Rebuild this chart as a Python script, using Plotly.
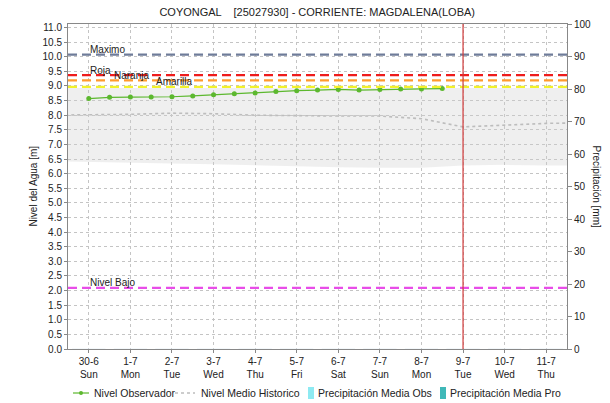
import plotly.graph_objects as go

# --- Station data -----------------------------------------------------------
title_text = "COYONGAL    [25027930] - CORRIENTE: MAGDALENA(LOBA)"

# Observed water level (twice daily readings)
obs_times = [
    "2024-06-30 00:00", "2024-06-30 12:00", "2024-07-01 00:00", "2024-07-01 12:00",
    "2024-07-02 00:00", "2024-07-02 12:00", "2024-07-03 00:00", "2024-07-03 12:00",
    "2024-07-04 00:00", "2024-07-04 12:00", "2024-07-05 00:00", "2024-07-05 12:00",
    "2024-07-06 00:00", "2024-07-06 12:00", "2024-07-07 00:00", "2024-07-07 12:00",
    "2024-07-08 00:00", "2024-07-08 12:00",
]
obs_level = [8.57, 8.61, 8.62, 8.62, 8.63, 8.66, 8.70, 8.73, 8.76,
             8.81, 8.84, 8.86, 8.88, 8.86, 8.88, 8.90, 8.90, 8.91]

# Historic daily statistics
hist_days = [
    "2024-06-29", "2024-06-30", "2024-07-01", "2024-07-02", "2024-07-03",
    "2024-07-04", "2024-07-05", "2024-07-06", "2024-07-07", "2024-07-08",
    "2024-07-09", "2024-07-10", "2024-07-11", "2024-07-12",
]
hist_mean = [8.00, 8.01, 8.03, 8.07, 8.05, 8.00, 7.98, 7.97, 7.97, 7.88,
             7.60, 7.66, 7.72, 7.74]
hist_high = [8.93, 8.93, 8.93, 8.93, 8.93, 8.93, 8.93, 8.93, 8.93, 8.93,
             8.93, 8.93, 8.93, 8.93]
hist_low = [6.43, 6.41, 6.38, 6.35, 6.32, 6.28, 6.25, 6.22, 6.20, 6.20,
            6.28, 6.30, 6.28, 6.27]

# Precipitation (mm)
precip_days = [
    "2024-06-30", "2024-07-01", "2024-07-02", "2024-07-03", "2024-07-04",
    "2024-07-05", "2024-07-06", "2024-07-07", "2024-07-08", "2024-07-09",
    "2024-07-10", "2024-07-11",
]
precip_obs = [0, 0, 0, 0, 0, 0, 0, 0, 0, 0, 0, 0]
precip_pro = [0, 0, 0, 0, 0, 0, 0, 0, 0, 0, 0, 0]

# Axis ticks
tick_days = precip_days
tick_labels = ["30-6<br>Sun", "1-7<br>Mon", "2-7<br>Tue", "3-7<br>Wed", "4-7<br>Thu",
               "5-7<br>Fri", "6-7<br>Sat", "7-7<br>Sun", "8-7<br>Mon", "9-7<br>Tue",
               "10-7<br>Wed", "11-7<br>Thu"]

# Alert thresholds (m)
threshold_names = ["Maximo", "Roja", "Naranja", "Amarilla", "Nivel Bajo"]
threshold_values = [10.07, 9.37, 9.19, 8.97, 2.09]
threshold_colors = ["#6f7c99", "#ee1c1c", "#ff9a2e", "#f2f22a", "#e84de8"]
threshold_label_x = ["2024-06-30 00:00", "2024-06-30 00:00", "2024-06-30 14:00",
                     "2024-07-01 14:00", "2024-06-30 00:00"]

today = "2024-07-09 00:00"

FONT = "Liberation Sans, Arial, sans-serif"
GREEN = "#5cb82e"
HIST_GREY = "#bdbdbd"
CYAN = "#8eeaf2"
TEAL = "#3fb8b8"

NAME_OBS = "Nivel Observador"
NAME_HIST = "Nivel Medio Historico"
NAME_P_OBS = "Precipitación Media Obs"
NAME_P_PRO = "Precipitación Media Pro"

fig = go.Figure()

# Historic range band
fig.add_trace(go.Scatter(x=hist_days, y=hist_high, mode="lines",
                         line=dict(width=0), hoverinfo="skip", showlegend=False))
fig.add_trace(go.Scatter(x=hist_days, y=hist_low, mode="lines", fill="tonexty",
                         fillcolor="rgba(205,205,205,0.32)", line=dict(width=0),
                         hoverinfo="skip", showlegend=False))

fig.add_trace(go.Scatter(
    x=obs_times, y=obs_level, mode="lines+markers", name=NAME_OBS,
    line=dict(color=GREEN, width=1.2),
    marker=dict(color=GREEN, size=5, symbol="circle"), showlegend=False,
))
fig.add_trace(go.Scatter(
    x=hist_days, y=hist_mean, mode="lines", name=NAME_HIST,
    line=dict(color=HIST_GREY, width=1.6, dash="dot"), showlegend=False,
))
fig.add_trace(go.Bar(x=precip_days, y=precip_obs, name=NAME_P_OBS,
                     marker_color=CYAN, yaxis="y2", showlegend=False))
fig.add_trace(go.Bar(x=precip_days, y=precip_pro, name=NAME_P_PRO,
                     marker_color=TEAL, yaxis="y2", showlegend=False))

# Threshold lines and their labels
for name, val, col, lx in zip(threshold_names, threshold_values,
                              threshold_colors, threshold_label_x):
    fig.add_shape(type="line", xref="paper", x0=0, x1=1, yref="y", y0=val, y1=val,
                  line=dict(color=col, width=2.2, dash="9px,5px"), layer="above")
    fig.add_annotation(x=lx, y=val, text=name, showarrow=False, xanchor="left",
                       yanchor="middle", yshift=5, xshift=-1,
                       font=dict(family=FONT, size=10, color="#222"))

# Current day marker
fig.add_shape(type="line", x0=today, x1=today, yref="paper", y0=0, y1=1,
              line=dict(color="#d03a3a", width=1.2), layer="above")

# --- Legend row under the chart (pixel positions converted to paper units) ---
L, PW, B, PH = 68, 499, 349, 325


def px(x):
    return (x - L) / PW


def py(y):
    return (B - y) / PH


LEG_Y = 393
legend_font = dict(family=FONT, size=10.5, color="#222")

fig.add_shape(type="line", xref="paper", yref="paper", x0=px(73), x1=px(89),
              y0=py(LEG_Y), y1=py(LEG_Y), line=dict(color=GREEN, width=1.2))
fig.add_shape(type="circle", xref="paper", yref="paper", x0=px(79), x1=px(83),
              y0=py(LEG_Y + 2), y1=py(LEG_Y - 2), line=dict(color=GREEN, width=0),
              fillcolor=GREEN)
fig.add_shape(type="line", xref="paper", yref="paper", x0=px(175), x1=px(195),
              y0=py(LEG_Y), y1=py(LEG_Y),
              line=dict(color=HIST_GREY, width=1.6, dash="dot"))
fig.add_shape(type="rect", xref="paper", yref="paper", x0=px(308), x1=px(314),
              y0=py(LEG_Y + 6), y1=py(LEG_Y - 6), line=dict(width=0),
              fillcolor=CYAN)
fig.add_shape(type="rect", xref="paper", yref="paper", x0=px(440), x1=px(446),
              y0=py(LEG_Y + 6), y1=py(LEG_Y - 6), line=dict(width=0),
              fillcolor=TEAL)
for text, tx in [(NAME_OBS, 92), (NAME_HIST, 199), (NAME_P_OBS, 316), (NAME_P_PRO, 448)]:
    fig.add_annotation(text=text, xref="paper", yref="paper", x=px(tx), y=py(LEG_Y),
                       xanchor="left", yanchor="middle", showarrow=False,
                       font=legend_font)

grid = dict(showgrid=True, gridcolor="#c4c4c4", griddash="dot", gridwidth=1)

fig.update_layout(
    width=610, height=403,
    margin=dict(l=68, r=43, t=24, b=54, autoexpand=False),
    paper_bgcolor="white", plot_bgcolor="white",
    font=dict(family=FONT, size=10, color="#222"),
    title=dict(text=title_text, x=0.52, xanchor="center", y=0.98, yanchor="top",
               font=dict(family=FONT, size=11, color="#222")),
    showlegend=False,
    barmode="group",
    xaxis=dict(type="date", range=["2024-06-29 12:00", "2024-07-11 12:00"],
               tickvals=tick_days, ticktext=tick_labels, ticks="outside", ticklen=3,
               tickcolor="#888", showline=True, linecolor="#888", mirror=True,
               tickfont=dict(family=FONT, size=10, color="#222"), zeroline=False,
               **grid),
    yaxis=dict(range=[0, 11.12], tickvals=[i * 0.5 for i in range(23)],
               tickformat=".1f", ticks="outside", ticklen=3, tickcolor="#888",
               showline=True, linecolor="#888", zeroline=False,
               tickfont=dict(family=FONT, size=10, color="#222"), **grid),
    yaxis2=dict(range=[0, 100], overlaying="y", side="right", dtick=10,
                ticks="outside", ticklen=4, tickcolor="#888", showline=True,
                linecolor="#888", showgrid=False, zeroline=False,
                tickfont=dict(family=FONT, size=10, color="#222")),
)

fig.add_annotation(text="Nivel del Agua [m]", xref="paper", yref="paper",
                   x=-0.070, y=0.5, xanchor="center", yanchor="middle",
                   textangle=-90, showarrow=False,
                   font=dict(family=FONT, size=10, color="#222"))
fig.add_annotation(text="Precipitación [mm]", xref="paper", yref="paper",
                   x=1.060, y=0.5, xanchor="center", yanchor="middle",
                   textangle=90, showarrow=False,
                   font=dict(family=FONT, size=10, color="#222"))

fig.write_html("out.html")
